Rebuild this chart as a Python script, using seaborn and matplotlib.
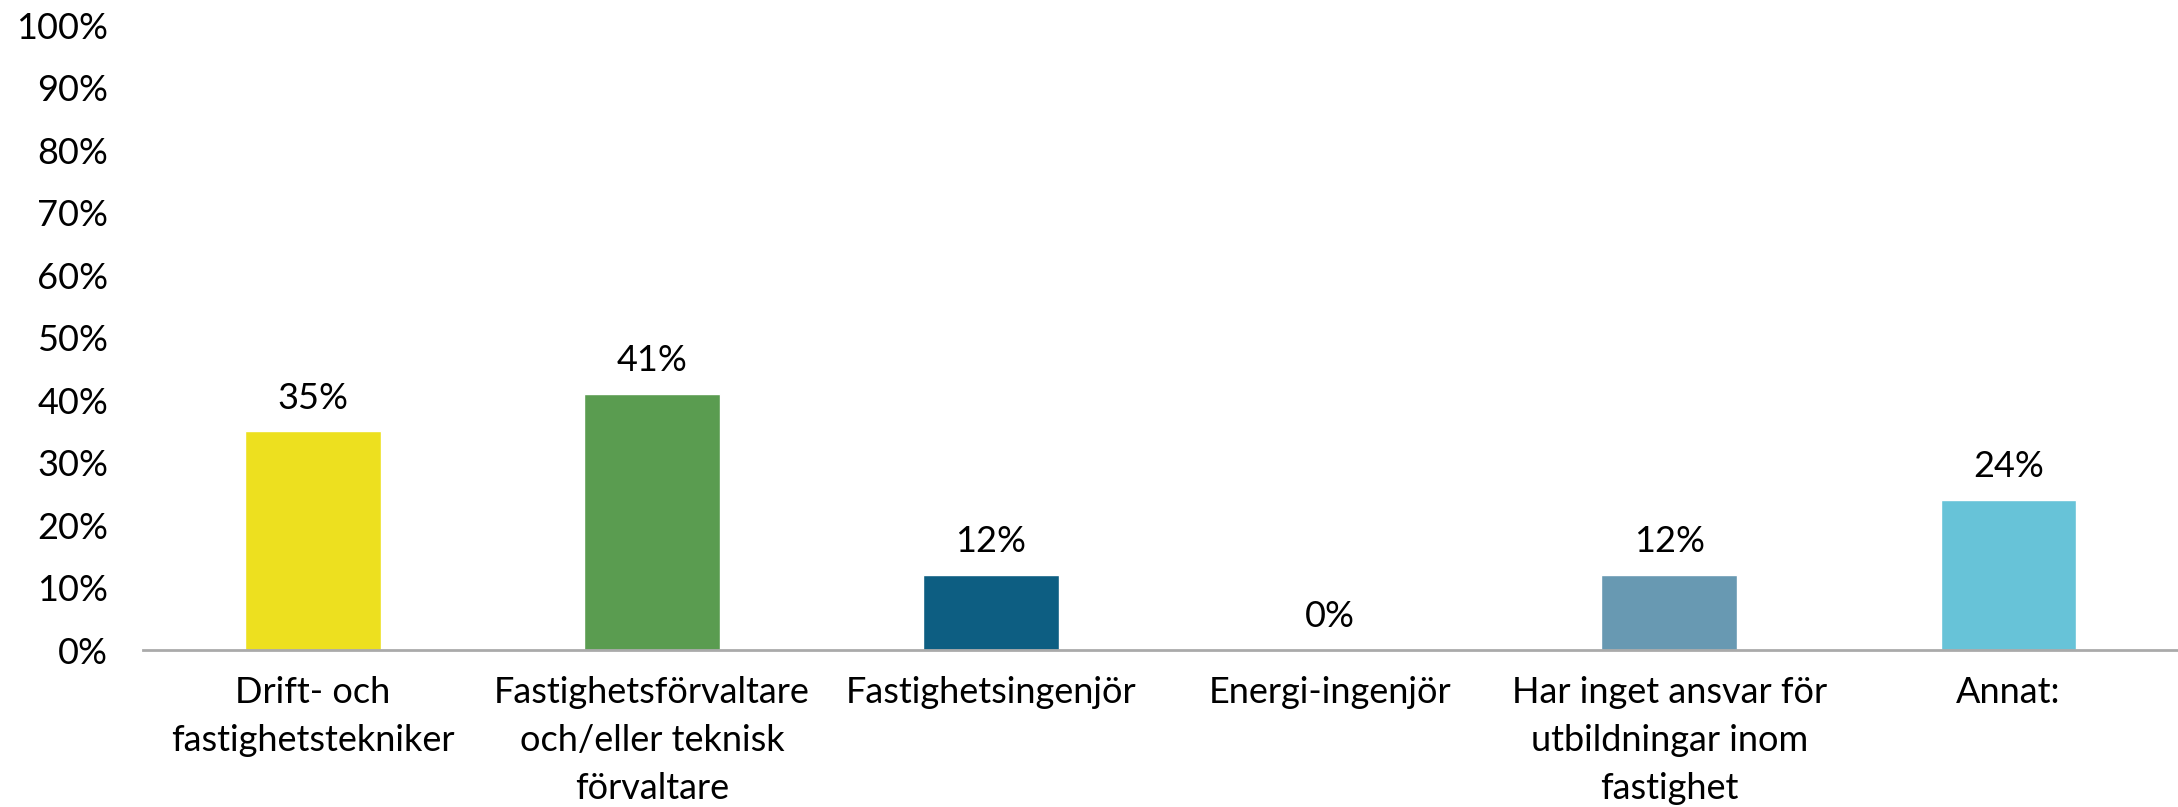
import pandas as pd
import matplotlib.pyplot as plt
import seaborn as sns

categories = [
    "Drift- och\nfastighetstekniker",
    "Fastighetsförvaltare\noch/eller teknisk\nförvaltare",
    "Fastighetsingenjör",
    "Energi-ingenjör",
    "Har inget ansvar för\nutbildningar inom\nfastighet",
    "Annat:",
]
values = [0.35, 0.41, 0.12, 0.0, 0.12, 0.24]
bar_colors = ["#EDE01F", "#5A9C50", "#0D5E82", "#0D5E82", "#6899B2", "#67C3D8"]
y_ticks = [0, 0.1, 0.2, 0.3, 0.4, 0.5, 0.6, 0.7, 0.8, 0.9, 1.0]

df = pd.DataFrame({"category": categories, "value": values})

sns.set_theme(style="white")
plt.rcParams["font.family"] = ["Lato", "DejaVu Sans"]

fig = plt.figure(figsize=(21.78, 8.07), dpi=100)
ax = fig.add_axes([0.0657, 0.1945, 0.9343, 0.7745])

sns.barplot(data=df, x="category", y="value", hue="category",
            palette=bar_colors, width=0.4, legend=False, ax=ax, saturation=1)

# value labels above the bars
for c in ax.containers:
    ax.bar_label(c, labels=[f"{v:.0%}" for v in c.datavalues],
                 padding=12, fontsize=26, color="black")

ax.set_ylim(0, 1.0)
ax.set_xlim(-0.5, 5.5)
ax.set_yticks(y_ticks)
ax.set_yticklabels([f"{t:.0%}" for t in y_ticks])
ax.set_xlabel("")
ax.set_ylabel("")
ax.tick_params(axis="y", length=0, pad=25, labelsize=26, labelcolor="black")
ax.tick_params(axis="x", length=0, pad=19, labelsize=26, labelcolor="black")
for lbl in ax.get_xticklabels():
    lbl.set_linespacing(1.55)

for s in ["top", "right", "left"]:
    ax.spines[s].set_visible(False)
ax.spines["bottom"].set_color("#AAAAAA")
ax.spines["bottom"].set_linewidth(2)
ax.grid(False)

fig.savefig("out.png", dpi=100)
